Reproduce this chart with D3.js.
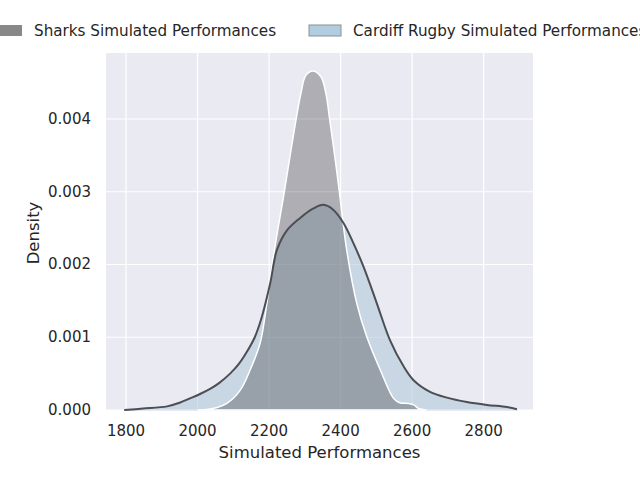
<!DOCTYPE html>
<html>
<head>
<meta charset="utf-8">
<script src="https://cdn.jsdelivr.net/npm/d3@7"></script>
<style>
  body { margin: 0; background: #fff; }
  text { font-family: "DejaVu Sans", sans-serif; fill: #262626; }
</style>
</head>
<body>
<svg id="chart" width="640" height="480"></svg>
<script>
// density curves
const sharksX = [2000, 2030, 2052, 2082, 2119, 2147, 2175, 2194, 2212, 2242, 2257, 2276, 2289, 2303, 2324, 2345, 2359, 2369, 2385, 2397, 2417, 2445, 2473, 2511, 2548, 2565, 2590, 2605, 2618, 2640];
const sharksY = [0, 0.00001, 0.00003, 0.00009, 0.00027, 0.00055, 0.00092, 0.00147, 0.00211, 0.00298, 0.00344, 0.00401, 0.00435, 0.0046, 0.00466, 0.00458, 0.00435, 0.00401, 0.00344, 0.00298, 0.0022, 0.00147, 0.00101, 0.00055, 0.00016, 0.0001, 0.00009, 0.00007, 0.00002, 0];

const cardiffX = [1795, 1848, 1915, 1950, 1979, 2007, 2035, 2060, 2091, 2115, 2138, 2160, 2178, 2203, 2222, 2250, 2287, 2324, 2352, 2380, 2408, 2436, 2464, 2501, 2538, 2576, 2604, 2650, 2697, 2753, 2809, 2865, 2893];
const cardiffY = [0, 0.00002, 0.00005, 0.0001, 0.00016, 0.00022, 0.00029, 0.00037, 0.0005, 0.00063, 0.0008, 0.001, 0.00125, 0.00174, 0.0022, 0.00247, 0.00264, 0.00277, 0.00282, 0.00275, 0.00257, 0.00229, 0.00197, 0.00147, 0.00096, 0.0006, 0.00041, 0.00025, 0.00017, 0.00011, 0.00007, 0.00004, 0.00001];

const xTicks = [1800, 2000, 2200, 2400, 2600, 2800];
const yTicks = [0, 0.001, 0.002, 0.003, 0.004];
const seriesNames = ["Sharks Simulated Performances", "Cardiff Rugby Simulated Performances"];

const svg = d3.select("#chart");
const plotL = 106, plotR = 533, plotT = 53, plotB = 410;

const x = d3.scaleLinear().domain([1744, 2938]).range([plotL, plotR]);
const y = d3.scaleLinear().domain([0, 0.004907]).range([plotB, plotT]);

svg.append("rect")
  .attr("x", plotL).attr("y", plotT)
  .attr("width", plotR - plotL).attr("height", plotB - plotT)
  .attr("fill", "#eaeaf2");

// grid
svg.append("g").selectAll("line").data(xTicks).join("line")
  .attr("x1", d => x(d)).attr("x2", d => x(d))
  .attr("y1", plotT).attr("y2", plotB)
  .attr("stroke", "#fff").attr("stroke-width", 1.2);
svg.append("g").selectAll("line").data(yTicks).join("line")
  .attr("x1", plotL).attr("x2", plotR)
  .attr("y1", d => y(d)).attr("y2", d => y(d))
  .attr("stroke", "#fff").attr("stroke-width", 1.2);

const cardiff = cardiffX.map((v, i) => [v, cardiffY[i]]);
const sharks = sharksX.map((v, i) => [v, sharksY[i]]);

const curve = d3.curveCatmullRom.alpha(0.5);
const area = d3.area()
  .x(d => x(d[0])).y0(y(0)).y1(d => y(d[1]))
  .curve(curve);
const line = d3.line()
  .x(d => x(d[0])).y(d => y(d[1]))
  .curve(curve);

svg.append("path").datum(cardiff)
  .attr("d", area)
  .attr("fill", "rgb(168,194,212)").attr("fill-opacity", 0.5)
  .attr("stroke", "#dfe4ec").attr("stroke-width", 1.5);

svg.append("path").datum(sharks)
  .attr("d", area)
  .attr("fill", "rgb(40,38,40)").attr("fill-opacity", 0.3)
  .attr("stroke", "#fff").attr("stroke-width", 1.5);

svg.append("path").datum(cardiff)
  .attr("d", line)
  .attr("fill", "none")
  .attr("stroke", "#4b4e53").attr("stroke-width", 2);

// axes labels
svg.append("g").selectAll("text").data(xTicks).join("text")
  .attr("x", d => x(d)).attr("y", 436)
  .attr("text-anchor", "middle")
  .style("font-size", "15px")
  .text(d => d);
svg.append("g").selectAll("text").data(yTicks).join("text")
  .attr("x", 91).attr("y", d => y(d) + 5)
  .attr("text-anchor", "end")
  .style("font-size", "15px")
  .text(d => d3.format(".3f")(d));

svg.append("text")
  .attr("x", (plotL + plotR) / 2).attr("y", 458)
  .attr("text-anchor", "middle")
  .style("font-size", "16.5px")
  .text("Simulated Performances");
svg.append("text")
  .attr("transform", "translate(39,233) rotate(-90)")
  .attr("text-anchor", "middle")
  .style("font-size", "16.5px")
  .text("Density");

// legend
const legend = svg.append("g");
const legendPatch = [
  { px: -10, fill: "#888888", stroke: "none" },
  { px: 309, fill: "#b3cde0", stroke: "#8a8f96" }
];
legend.selectAll("rect").data(legendPatch).join("rect")
  .attr("x", d => d.px).attr("y", 25)
  .attr("width", 32).attr("height", 11)
  .attr("fill", d => d.fill).attr("stroke", d => d.stroke);
legend.selectAll("text").data(seriesNames).join("text")
  .attr("x", (d, i) => legendPatch[i].px + 44)
  .attr("y", 36)
  .style("font-size", "15.2px")
  .text(d => d);
</script>
</body>
</html>
